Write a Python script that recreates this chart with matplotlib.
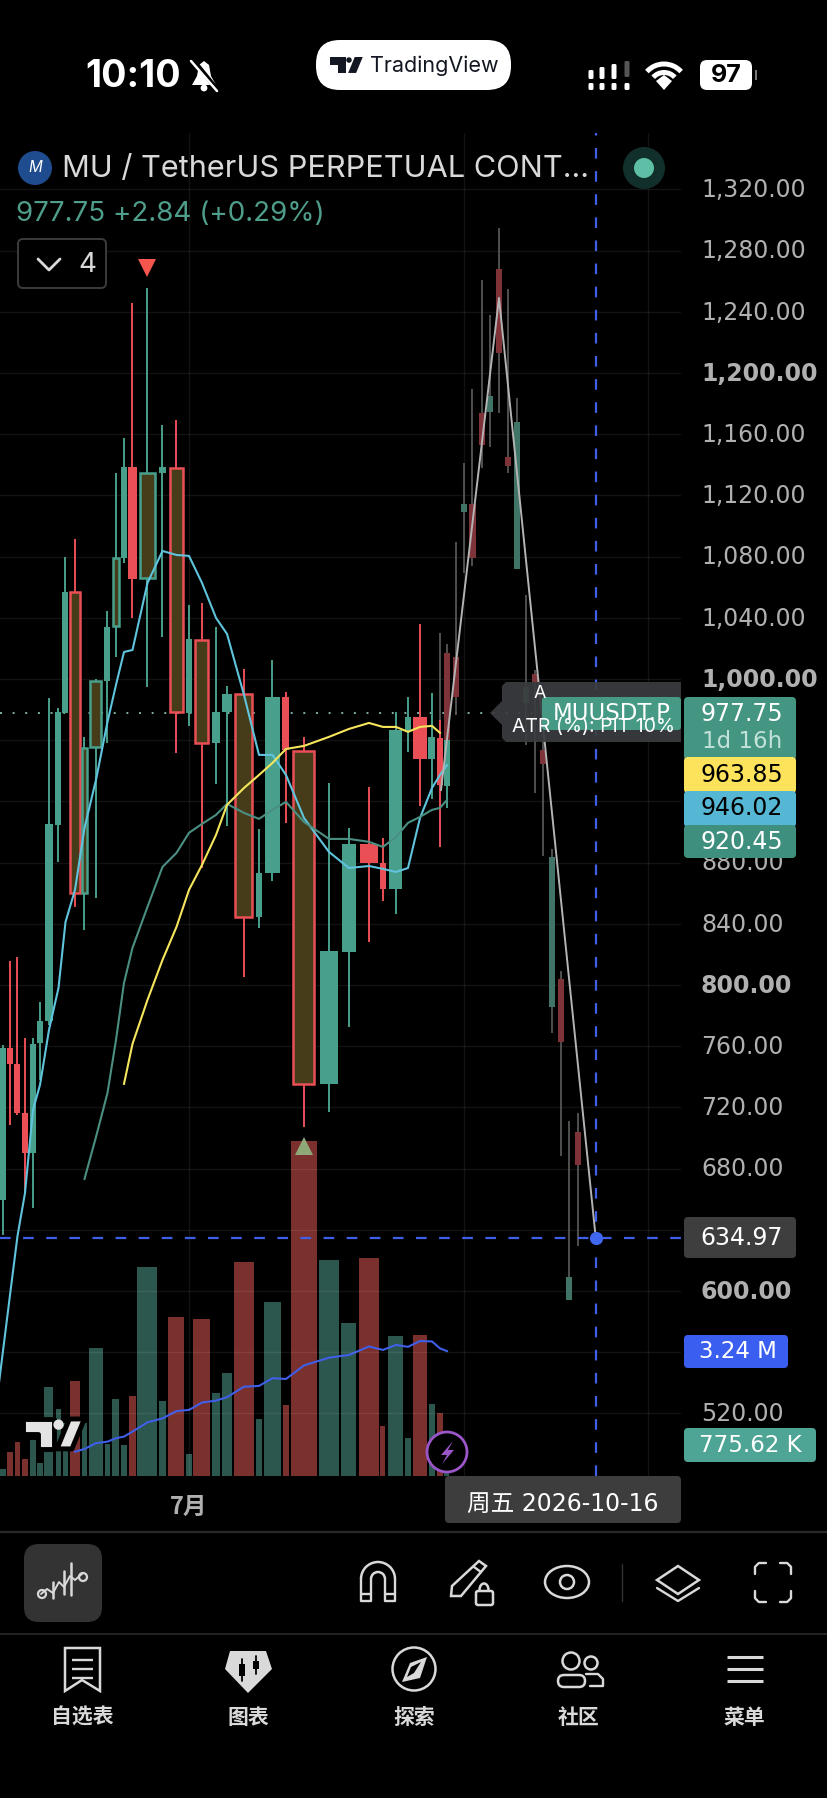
#!/usr/bin/env python
"""Phone screenshot of a candlestick chart: MU / TetherUS perpetual contract."""

import numpy as np
import matplotlib
matplotlib.use("Agg")
import matplotlib.pyplot as plt
from matplotlib.patches import Arc, Circle, Ellipse, FancyBboxPatch, Polygon, Rectangle
from matplotlib.transforms import ScaledTranslation

W, H = 828, 1798
CJK = ['Noto Sans CJK SC', 'DejaVu Sans']

# Bars of the live series, in time-scale position (the app squeezes and stretches bars)
BAR_POS = [3, 10, 17.5, 25, 33, 40, 49, 58.5, 65.5, 75, 84.5, 96, 107.5, 116, 124, 132.5,
           147.5, 162.5, 176.5, 189, 202, 216, 227, 244, 259, 272.5, 286, 304, 329, 349,
           369, 383, 396, 408, 420, 432, 440, 447]
OPEN = [659.5, 758.9, 748.4, 716.4, 690.3, 762.2, 776.5, 904.6, 977.9, 1056.9, 860.2, 955.6,
        998.8, 1034.7, 1079.2, 1138.6, 1066.1, 1134.7, 1138, 977.9, 1025.6, 958.2, 978.5,
        990.3, 844.5, 873.3, 988.3, 953, 735.4, 821.6, 892.2, 879.8, 862.8, 966.7, 975.2,
        947.8, 961.5, 930.2]
HIGH = [760.9, 815.8, 818.4, 765.4, 765.4, 788.9, 987.6, 981.1, 1079.8, 1091.6, 962.2, 1000,
        1044.5, 1134.7, 1157.6, 1245.8, 1255.6, 1166.1, 1169.4, 1048.4, 1049.7, 1034.1, 995.5,
        1006.6, 902, 1012.5, 991.6, 962.2, 932.1, 902.7, 929.5, 896.1, 978.5, 988.3, 1036,
        990.9, 973.3, 960.2]
LOW = [636.7, 708.6, 715.1, 664.8, 654.3, 738, 773.9, 880.5, 977.9, 851, 836, 856.9, 958.2,
       1014.4, 1075.9, 1040, 994.9, 1027.5, 951.7, 969.4, 876.5, 931.4, 904, 805.3, 837.3,
       868, 906, 707.2, 717.1, 772.6, 828.2, 855, 846.5, 952.4, 917, 921.6, 890.3, 915.8]
CLOSE = [758.9, 748.4, 716.4, 690.3, 761.5, 776.5, 905.3, 978.5, 1056.9, 860.2, 955, 998.8,
         1034.1, 1079.2, 1138.6, 1065.4, 1134.7, 1138.6, 978.5, 1026.2, 958.2, 978.5, 990.3,
         844.5, 873.3, 988.3, 953.7, 735.4, 822.3, 892.2, 879.8, 862.8, 966.7, 975.2, 947.8,
         962.2, 930.8, 960.2]
VOLUME_M = [0.17, 0.62, 0.86, 0.42, 0.92, 0.32, 2.30, 1.72, 1.35, 2.44, 1.35, 3.29, 0.82, 1.97,
            0.79, 2.06, 5.40, 1.93, 4.10, 0.56, 4.05, 2.13, 2.65, 5.52, 1.47, 4.48, 1.84, 8.65,
            5.57, 3.95, 5.62, 1.28, 3.61, 0.97, 3.63, 1.85, 1.63, 0.78]
# 1-based bars the pattern indicator marks with a hollow olive body
MARKED = [10, 11, 12, 14, 17, 19, 21, 24, 28]

# Projected bars behind the replay line
GHOST_POS = [440, 447, 456, 464, 472.5, 482, 490, 499, 508, 517, 526, 535, 543, 552, 561, 569, 578]
GHOST_OPEN = [973.3, 1017.1, 1014.4, 1109.2, 1114.4, 1173.9, 1174.6, 1268, 1145.2, 1072, 984.4,
              1003.3, 953.7, 785.7, 804, 594.2, 704]
GHOST_HIGH = [1030.2, 1022.9, 1089.6, 1141.2, 1189.6, 1260.9, 1238, 1294.9, 1255, 1183.7, 1055,
              1006, 960.2, 889, 809.2, 711.2, 716.4]
GHOST_LOW = [973.3, 960.2, 976.5, 1069.4, 1073.9, 1138, 1151.7, 1173.9, 1134.7, 1072, 957, 925.6,
             884.4, 768.7, 688.3, 594.2, 629.5]
GHOST_CLOSE = [973.3, 960.2, 988.3, 1114.4, 1079.2, 1153, 1185, 1213.2, 1139.3, 1168, 994.9,
               998.1, 944.5, 883.7, 762.8, 609.2, 682.4]

# Moving averages; the fast one starts one point left of the screen
FAST_START = (-4, 524.3)
MA_FAST = [560.9, 597.4, 636, 664.1, 718.4, 734.7, 770.7, 798.1, 841.2, 862.2, 902.7, 934.1, 972,
           996.2, 1017.7, 1019, 1062.8, 1083.7, 1081.1, 1080.5, 1062.8, 1040, 1029.5, 989.6,
           950.4, 950.4, 937.3, 909.2, 887, 876.5, 877.8, 875.9, 873.9, 876.5, 909.2, 928.8,
           937.3, 943.8]
MA_MID = [673.3, 700.7, 729.5, 764.1, 801.4, 824.3, 851.1, 877.2, 886.4, 899.5, 905.3, 911.2,
          918.4, 912.5, 908.6, 914.5, 919.7, 906.6, 895.5, 895.5, 893.6, 890.3, 896.8, 906,
          909.9, 914.5, 915.8, 921]
MA_SLOW = [735.4, 761.5, 790.3, 816.4, 838, 862.2, 878.5, 898.1, 917.8, 928.8, 937.3, 945.2,
           954.3, 956.3, 962.2, 967.4, 971.3, 968.7, 968.7, 965.5, 968.7, 969.4, 964.8]
VOL_MA_M = [0.62, 0.69, 0.84, 0.88, 0.97, 1.01, 1.14, 1.38, 1.48, 1.67, 1.70, 1.89, 1.94, 2.03,
            2.30, 2.32, 2.52, 2.50, 2.85, 3.05, 3.12, 3.34, 3.25, 3.38, 3.33, 3.48, 3.47, 3.29,
            3.22]

# Replay path and current marks
PATH_POS = [441, 499, 595.7]
PATH_PRICE = [927.5, 1249.1, 634.97]
LAST_PRICE = 977.75
CROSS_PRICE = 634.97

PRICE_TICKS = list(range(520, 1321, 40))
BOLD_TICKS = [600, 800, 1000, 1200]
HIDDEN_TICKS = [560, 640, 920, 960]
MONTH_TICKS = [189, 464, 648]
MONTH_LABELS = ['7月', '', '']

# Body and volume widths follow the squeezed time scale
BODY_W = [6, 6, 6, 6, 6, 6, 8.5, 6, 6, 9.5, 5.5, 11, 6, 6, 6, 9, 15, 7, 13, 6, 13, 8, 9.5, 17, 6,
          15, 7, 21, 18, 14, 18, 6, 13, 6, 14, 7, 6, 6]
VOL_W = [5.5, 5.5, 5.5, 5.5, 5.5, 5.5, 9, 5.5, 5.5, 10, 5.5, 14, 5.5, 7, 5.5, 7.5, 20, 7, 16, 5.5,
         17, 8, 10.5, 20, 6.5, 17, 6.5, 25.5, 20.5, 15, 20.5, 5, 15, 5.5, 14.5, 6.5, 5.5, 5]

GREEN = '#48a08c'
RED = '#e94f55'
OLIVE = '#463c1a'
VOL_GREEN = '#2c574f'
VOL_RED = '#7a302d'
GHOST_GREEN = '#3f7467'
GHOST_RED = '#7e3338'
GHOST_WICK = '#565656'
BLUE = '#3f5fe8'
TEXT = '#d9d9d9'
TICK = '#b0b0b0'

fig = plt.figure(figsize=(W / 100, H / 100), dpi=100, facecolor='black')
chart_top, chart_bottom, chart_right = 133, 1475.7, 681
rect = [0, 1 - chart_bottom / H, chart_right / W, (chart_bottom - chart_top) / H]

# Volume sits under the candles on its own scale
vol_ax = fig.add_axes(rect, zorder=1)
vol_ax.set_facecolor('black')
vol_ax.axis('off')
vol_ax.bar(BAR_POS, VOLUME_M, width=VOL_W,
           color=[VOL_GREEN if c >= o else VOL_RED for o, c in zip(OPEN, CLOSE)])
vol_ax.plot(BAR_POS[9:], VOL_MA_M, color=BLUE, lw=1.5)
vol_ax.set_xlim(0, chart_right)
vol_ax.set_ylim(0, 34.7)

ax = fig.add_axes(rect, zorder=2)
ax.patch.set_visible(False)
for spine in ax.spines.values():
    spine.set_visible(False)
ax.set_xlim(0, chart_right)
ax.set_ylim(479.3, 1356.9)
ax.grid(True, color='white', alpha=0.075, lw=1.0)
ax.set_axisbelow(True)
ax.yaxis.tick_right()
ax.set_yticks(PRICE_TICKS)
ax.set_yticklabels(['' if t in HIDDEN_TICKS else f'{t:,}.00' for t in PRICE_TICKS])
ax.tick_params(axis='y', length=0, pad=14.4, labelcolor=TICK, labelsize=17)
nudge = ScaledTranslation(0, 1.3 / 72, fig.dpi_scale_trans)
for t, label_obj in zip(PRICE_TICKS, ax.get_yticklabels()):
    label_obj.set_transform(label_obj.get_transform() + nudge)
    if t in BOLD_TICKS:
        label_obj.set_fontweight('bold')
ax.set_xticks(MONTH_TICKS)
ax.set_xticklabels(MONTH_LABELS, family=CJK, fontweight='bold', fontsize=17, color=TICK)
ax.tick_params(axis='x', length=0, pad=14)

# Live candles
for i, x in enumerate(BAR_POS):
    o, h, l, c = OPEN[i], HIGH[i], LOW[i], CLOSE[i]
    col = GREEN if c >= o else RED
    ax.vlines(x, l, h, color=col, lw=1.4, zorder=3)
    if i + 1 in MARKED:
        ax.bar(x, abs(c - o), bottom=min(o, c), width=BODY_W[i], color=OLIVE, edgecolor=col,
               linewidth=1.8, zorder=4)
    else:
        ax.bar(x, abs(c - o), bottom=min(o, c), width=BODY_W[i], color=col, zorder=4)

# Projected candles
for i, x in enumerate(GHOST_POS):
    o, h, l, c = GHOST_OPEN[i], GHOST_HIGH[i], GHOST_LOW[i], GHOST_CLOSE[i]
    ax.vlines(x, l, h, color=GHOST_WICK, lw=1.3, zorder=3)
    ax.bar(x, abs(c - o), bottom=min(o, c), width=6.5,
           color=GHOST_GREEN if c >= o else GHOST_RED, zorder=4)

ax.plot(np.r_[FAST_START[0], BAR_POS], np.r_[FAST_START[1], MA_FAST], color='#5fc4dc', lw=1.5, zorder=5)
ax.plot(BAR_POS[10:], MA_MID, color='#4b8f83', lw=1.5, zorder=5)
ax.plot(BAR_POS[14:37], MA_SLOW, color='#f6e65c', lw=1.5, zorder=5)
ax.plot(PATH_POS, PATH_PRICE, color='#b4b4b4', lw=1.4, zorder=6)

ax.axhline(LAST_PRICE, color='#7fb0a2', lw=1.4, ls=(0, (1, 5.5)), zorder=2.5)
dash = (0, (4.8, 5.6))
ax.axhline(CROSS_PRICE, color=BLUE, lw=1.6, ls=dash, zorder=6)
ax.axvline(PATH_POS[-1], color=BLUE, lw=1.6, ls=dash, zorder=6)
ax.plot(PATH_POS[-1], CROSS_PRICE, 'o', color='#3f67f0', ms=9.5, mew=0, zorder=7)
ax.plot(147.5, 1268.7, 'v', color='#f5574f', ms=12.5, mew=0, zorder=7)
ax.plot(304, 695, '^', color='#8fa877', ms=12.5, mew=0, zorder=7)

# Everything else is phone and app chrome, drawn in screen pixels
ui = fig.add_axes([0, 0, 1, 1], zorder=3)
ui.patch.set_visible(False)
ui.axis('off')
ui.set_xlim(0, W)
ui.set_ylim(H, 0)


def box(x0, y0, x1, y1, color, r=4, **kw):
    ui.add_patch(FancyBboxPatch((x0, y0), x1 - x0, y1 - y0, boxstyle=f'round,pad=0,rounding_size={r}',
                                fc=color, ec=kw.pop('ec', 'none'), lw=kw.pop('lw', 0), **kw))


def line(xs, ys, color=TEXT, lw=1.7, **kw):
    ui.plot(xs, ys, color=color, lw=lw, solid_capstyle=kw.pop('cap', 'round'), **kw)


def label(x, y, s, color='white', size=17, ha='center', **kw):
    ui.text(x, y, s, color=color, fontsize=size, ha=ha, va='center', **kw)


def tv_logo(x, y, s, color, outline=None):
    """TradingView mark with its top-left at (x, y); 1 unit = s px."""
    t = [(0, 0), (30, 0), (30, 29), (15, 29), (15, 14.5), (0, 14.5)]
    slash = [(45, 0), (59.5, 0), (47.5, 29), (33, 29)]
    extra = dict(ec=outline, lw=3.5) if outline else dict(ec='none')
    for pts in (t, slash):
        ui.add_patch(Polygon([(x + a * s, y + b * s) for a, b in pts], fc=color, joinstyle='round', **extra))
    ui.add_patch(Circle((x + 34.5 * s, y + 5.5 * s), 5 * s, fc=color, ec='none'))


# Status bar
label(133, 77, '10:10', size=27, family='Inter', fontweight='bold')
ui.add_patch(Polygon([(204, 61), (209, 65), (211, 76), (216, 85), (192, 85), (197, 76), (199, 65)], fc='white'))
ui.add_patch(Circle((204, 88), 3.4, fc='white'))
line([193, 219], [60, 92], color='black', lw=3.5)
line([191, 217], [61, 91], color='white', lw=1.8)

box(316, 40, 511, 90, 'white', r=24)
tv_logo(330, 57, 0.55, '#131722')
label(370, 66, 'TradingView', color='#131722', size=15.5, ha='left', family='Inter')

for x, top in zip([591, 602, 614], [70, 67, 64]):
    box(x - 2.5, top, x + 2.5, 79, 'white', r=1.5)
box(624.5, 61, 629.5, 77, '#555555', r=1.5)
for x in [591, 602, 614, 627]:
    box(x - 2.5, 83, x + 2.5, 90, 'white', r=1.5)
for d in [46, 29]:
    ui.add_patch(Arc((664, 87), d, d, theta1=222, theta2=318, color='white', lw=3.6))
ui.add_patch(Polygon([(664, 90), (656, 81), (664, 75), (672, 81)], fc='white'))
box(700, 60, 752, 90, 'white', r=7)
label(726, 75, '97', color='black', size=18, family='Inter', fontweight='bold')
ui.add_patch(Rectangle((755, 70), 2.5, 10, fc='#777777'))

# Symbol header
ui.add_patch(Circle((35, 168), 17, fc='#1f4c8f'))
label(35, 168, 'M', size=11, family='Inter', fontstyle='italic')
label(62, 169, 'MU / TetherUS PERPETUAL CONT...', color=TEXT, size=22.1, ha='left', family='Inter')
label(16, 214, '977.75 +2.84 (+0.29%)', color='#4f9e8c', size=20, ha='left', family='Inter')
ui.add_patch(Ellipse((644, 168), 42, 42, fc='#12302b'))
ui.add_patch(Circle((644, 168), 10, fc='#5fbfa6'))
box(18, 239, 106, 288, 'black', r=5, ec='#3c3c3c', lw=1.4)
line([38, 49, 60], [259, 270, 259], lw=2)
label(87, 265, '4', color=TEXT, size=20, family='Inter')

# Tooltip and symbol tag on the chart edge
ui.add_patch(Polygon([(490, 713), (502, 701), (502, 686), (506, 682), (681, 682), (681, 742),
                      (506, 742), (502, 738), (502, 725)], fc='#3b3c3f', alpha=0.93))
tip = ui.text(512, 727, 'ATR (%): PIT 10%', color='white', fontsize=14, ha='left', va='center',
              family='Inter')
tip.set_clip_path(Rectangle((490, 682), 191, 60, transform=ui.transData))
label(540, 693, 'A', size=13, family='Inter')
box(542, 697, 681, 730, '#469a85', r=3)
label(612, 714, 'MUUSDT.P', size=16.5)

# Price scale tags
box(684, 697, 796, 760, '#449582', r=4)
label(742, 714, '977.75')
label(742, 742, '1d 16h', color='#c3e2d9', size=16.5)
box(684, 757, 796, 793, '#fde25c', r=4)
label(742, 775, '963.85', color='black')
box(684, 791, 796, 827, '#55b7d4', r=4)
label(742, 808, '946.02', color='black')
box(684, 825, 796, 858, '#3e8f7d', r=4)
label(742, 842, '920.45')
box(684, 1217, 796, 1258, '#3e3e3e', r=4)
label(742, 1238, '634.97')
box(684, 1335, 788, 1368, '#3a5ff0', r=4)
label(738, 1352, '3.24 M', size=16.5)
box(684, 1428, 816, 1462, '#4fa595', r=4)
label(750, 1446, '775.62 K', size=16.5)

# Watermark and replay bolt
tv_logo(23, 1419, 1.03, '#e4e4e4', outline='black')
ui.add_patch(Circle((447, 1452), 20, fc='black', ec='#9a55c6', lw=2))
ui.add_patch(Polygon([(453, 1441), (441, 1455), (447, 1455), (442, 1464), (454, 1450), (448, 1450)], fc='#9a55c6'))

# Date tag under the crosshair
box(445, 1476, 681, 1523, '#3d3d3d', r=4)
ui.text(563, 1505, '周五 2026-10-16', color='white', fontsize=17, ha='center', va='center',
        family=['DejaVu Sans', 'Noto Sans CJK SC'])

# Toolbar
line([0, W], [1532, 1532], color='#2a2a2a', lw=1.6)
line([0, W], [1634, 1634], color='#2a2a2a', lw=1.2)
box(24, 1544, 102, 1622, '#333333', r=15)
line([41, 47, 53, 59, 64, 70, 75, 83], [1594, 1589, 1593, 1582, 1587, 1576, 1580, 1573], lw=1.4)
for x, y0, y1 in [(53, 1582, 1598), (64, 1571, 1594), (71, 1563, 1595)]:
    line([x, x], [y0, y1], lw=1.8)
for x, y in [(42, 1594), (83, 1577)]:
    ui.add_patch(Circle((x, y), 4, fc='#333333', ec=TEXT, lw=1.6))

# magnet
for d in [34, 14]:
    ui.add_patch(Arc((378, 1579), d, d, theta1=180, theta2=360, color=TEXT, lw=1.8))
for x0, x1 in [(361, 371), (385, 395)]:
    line([x0, x0, x1, x1], [1579, 1601, 1601, 1579], cap='butt')
    line([x0, x1], [1594, 1594], cap='butt')
# pencil and lock
ui.add_patch(Polygon([(479, 1561), (486, 1566), (461, 1596), (451, 1596), (452, 1586)], fc='none', ec=TEXT, lw=1.8))
line([474, 481], [1567, 1572])
box(476, 1591, 493, 1605, 'black', r=2, ec=TEXT, lw=1.8)
ui.add_patch(Arc((484, 1590), 9, 13, theta1=180, theta2=360, color=TEXT, lw=1.8))
# eye
ui.add_patch(Ellipse((567, 1582), 44, 32, fc='none', ec=TEXT, lw=1.8))
ui.add_patch(Circle((567, 1582), 7, fc='none', ec=TEXT, lw=1.8))
line([622, 622], [1564, 1601], color='#333333', lw=1)
# layers
ui.add_patch(Polygon([(678, 1566), (699, 1580), (678, 1594), (657, 1580)], fc='none', ec=TEXT, lw=1.8))
line([657, 678, 699], [1588, 1601, 1588])
# fullscreen corners
for sx, sy in [(755, 1563), (791, 1563), (755, 1602), (791, 1602)]:
    dx = 11 if sx == 755 else -11
    dy = 11 if sy == 1563 else -11
    line([sx + dx, sx + dx * 0.35, sx, sx], [sy, sy, sy + dy * 0.35, sy + dy])

# Bottom navigation
NAV_X = [82, 248, 414, 579, 744]
NAV_LABELS = ['自选表', '图表', '探索', '社区', '菜单']
for x, s in zip(NAV_X, NAV_LABELS):
    ui.text(x, 1717, s, color=TEXT, fontsize=15, fontweight='bold', ha='center', va='center', family=CJK)
ui.add_patch(Polygon([(65, 1648), (100, 1648), (100, 1691), (82, 1680), (65, 1691)], fc='none', ec=TEXT, lw=1.8))
for y in [1660, 1669, 1678]:
    line([72, 93], [y, y], cap='butt')
ui.add_patch(Polygon([(230, 1651), (266, 1651), (272, 1669), (248, 1693), (225, 1669)], fc=TEXT))
for x, y0, y1 in [(242, 1659, 1681), (256, 1656, 1674)]:
    line([x, x], [y0, y1], color='black', lw=1.3)
    ui.add_patch(Rectangle((x - 3, y0 + 5), 6, y1 - y0 - 10, fc='black'))
ui.add_patch(Circle((414, 1669), 21.5, fc='none', ec=TEXT, lw=1.8))
ui.add_patch(Polygon([(427, 1657), (420, 1678), (402, 1682), (410, 1663)], fc=TEXT))
ui.add_patch(Polygon([(421, 1662), (414, 1673), (407, 1677), (411, 1667)], fc='black'))
ui.add_patch(Circle((571, 1661), 8.5, fc='none', ec=TEXT, lw=1.8))
ui.add_patch(Circle((591, 1663), 6.5, fc='none', ec=TEXT, lw=1.8))
box(558, 1675, 585, 1687, 'black', r=6, ec=TEXT, lw=1.8)
line([586, 598, 603, 603, 590], [1674, 1674, 1679, 1686, 1686])
for y in [1657, 1669, 1681]:
    line([727, 763], [y, y], lw=2.2, cap='butt')

fig.savefig('out.png', dpi=100, facecolor='black')
